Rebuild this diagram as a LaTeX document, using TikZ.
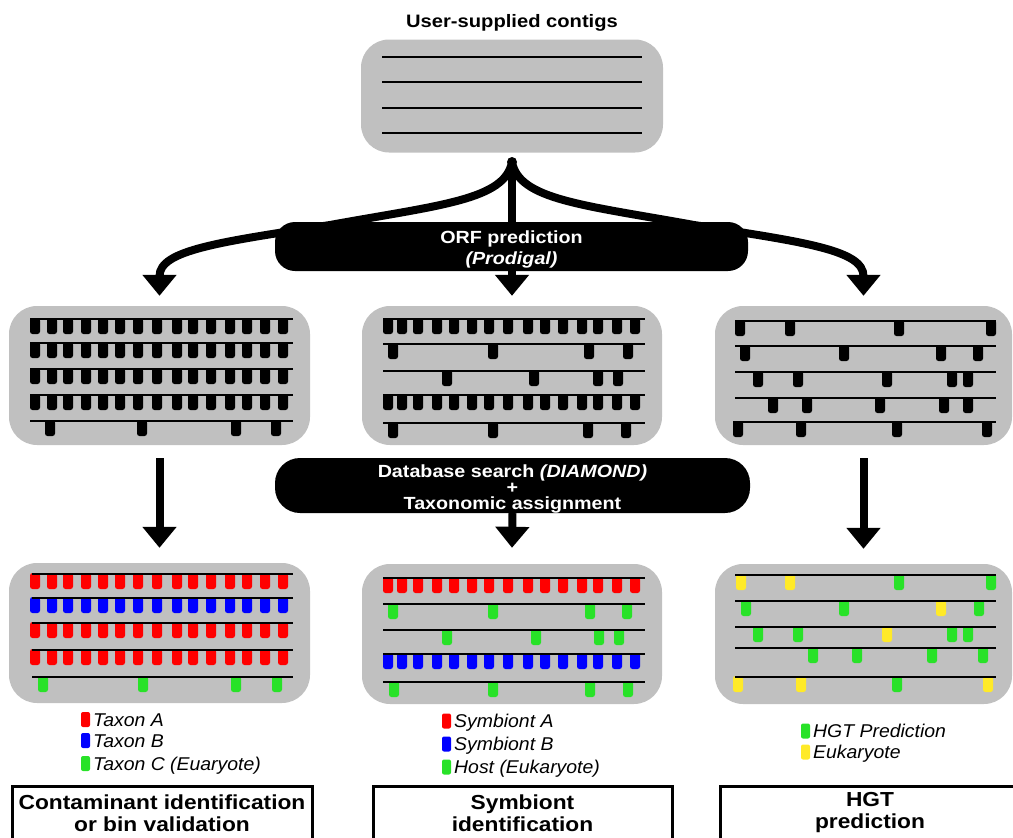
\documentclass[tikz,border=0pt]{standalone}
\usepackage{fontspec}
\setmainfont{Liberation Sans}
\newfontfamily\widesans[FakeStretch=1.12]{Liberation Sans}
\newfontfamily\legendsans[FakeStretch=1.05]{Liberation Sans}
\usetikzlibrary{arrows.meta}

\definecolor{panelgrey}{RGB}{192,192,192}
\definecolor{genered}{RGB}{255,0,0}
\definecolor{geneblue}{RGB}{0,0,255}
\definecolor{genegreen}{RGB}{40,226,40}
\definecolor{geneyellow}{RGB}{255,234,40}

% genes hanging below a contig: #1 y of the contig, #2 colour, #3 gene centres
\newcommand\genes[3]{%
  \edef\genelist{#3}%
  \foreach \g in \genelist {\fill[#2, rounded corners=2.5pt] (\g-5,#1-1) rectangle (\g+5,#1+15);}}
% the contig line itself: #1 x start, #2 x end, #3 y
\newcommand\contig[3]{\draw[contigline] (#1,#3) -- (#2,#3);}
% one legend entry: #1 node name, #2 x, #3 baseline y, #4 colour, #5 label
\newcommand\legenditem[5]{%
  \fill[#4, rounded corners=2pt] (#2,#3-14) rectangle (#2+9,#3+1);
  \node[legend] (#1) at (#2+12,#3) {#5};}

\begin{document}
\begin{tikzpicture}[x=1pt,y=-1pt,
  panel/.style={fill=panelgrey, rounded corners=28pt, inner sep=0pt},
  contigline/.style={line width=2.8pt, black},
  banner/.style={fill=black, inner sep=0pt},
  bannertext/.style={text=white, align=center, inner sep=0pt,
    font=\widesans\bfseries\fontsize{17.6}{21}\selectfont},
  flow/.style={line width=8pt, -{Triangle[width=33pt,length=21pt]}},
  legend/.style={anchor=base west, inner sep=0pt, font=\legendsans\itshape\fontsize{18.5}{22}\selectfont},
  outcome/.style={draw=black, line width=3pt, anchor=north, align=center,
    minimum height=53pt, inner sep=0pt, font=\widesans\bfseries\fontsize{20.3}{22}\selectfont},
  heading/.style={font=\widesans\bfseries\fontsize{18}{19}\selectfont, inner sep=0pt, anchor=base}]
\clip (0,0) rectangle (1013,838);

% ---------- input contigs ----------
\node[heading] (title) at (512,27) {User-supplied contigs};
\node[panel, minimum width=302pt, minimum height=113pt] (contigs) at (512,96) {};
\foreach \y in {57,82,108,133} {\contig{382}{642}{\y}}
\coordinate (split) at (512,162);

% ---------- ORF panels ----------
\node[panel, minimum width=301pt, minimum height=139pt] (orfA) at (159.5,375.5) {};
\node[panel, minimum width=300pt, minimum height=139pt] (orfB) at (512,375.5) {};
\node[panel, minimum width=297pt, minimum height=139pt] (orfC) at (863.5,375.5) {};

\def\fullL{35,52,68,86,103,120,138,157,177,193,211,230,247,265,283}
\def\fullC{388,402,418,437,454,472,489,508,528,545,563,582,598,617,635}

\foreach \y in {319,343,369,395} {\genes{\y}{black}{\fullL}\contig{30}{293}{\y}}
\genes{421}{black}{50,142,236,276}\contig{30}{293}{421}

\genes{319}{black}{\fullC}\contig{383}{645}{319}
\genes{344}{black}{393,493,589,628}\contig{383}{645}{344}
\genes{371}{black}{447,534,598,618}\contig{383}{645}{371}
\genes{395}{black}{\fullC}\contig{383}{645}{395}
\genes{423}{black}{393,493,588,626}\contig{383}{645}{423}

\genes{321}{black}{740,790,899,991}\contig{735}{996}{321}
\genes{346}{black}{745,844,941,978}\contig{735}{996}{346}
\genes{372}{black}{758,798,887,952,968}\contig{735}{996}{372}
\genes{398}{black}{773,807,880,944,968}\contig{735}{996}{398}
\genes{422}{black}{738,801,897,987}\contig{733}{996}{422}

% ---------- taxonomy panels ----------
\node[panel, minimum width=301pt, minimum height=140pt] (taxA) at (159.5,633) {};
\node[panel, minimum width=300pt, minimum height=140pt] (taxB) at (512,634) {};
\node[panel, minimum width=297pt, minimum height=140pt] (taxC) at (863.5,634) {};

\genes{574}{genered}{\fullL}\contig{32}{293}{574}
\genes{598}{geneblue}{\fullL}\contig{32}{293}{598}
\genes{623}{genered}{\fullL}\contig{32}{293}{623}
\genes{650}{genered}{\fullL}\contig{32}{293}{650}
\genes{677}{genegreen}{43,143,236,277}\contig{32}{293}{677}

\genes{578}{genered}{\fullC}\contig{383}{645}{578}
\genes{604}{genegreen}{393,493,590,627}\contig{383}{645}{604}
\genes{630}{genegreen}{447,536,599,619}\contig{383}{645}{630}
\genes{654}{geneblue}{\fullC}\contig{383}{645}{654}
\genes{682}{genegreen}{394,493,590,628}\contig{383}{645}{682}

\genes{575}{geneyellow}{741,790}\genes{575}{genegreen}{899,991}\contig{735}{996}{575}
\genes{601}{genegreen}{746,844,979}\genes{601}{geneyellow}{941}\contig{735}{996}{601}
\genes{627}{genegreen}{758,798,952,968}\genes{627}{geneyellow}{887}\contig{735}{996}{627}
\genes{648}{genegreen}{813,857,932,983}\contig{735}{996}{648}
\genes{677}{geneyellow}{738,801,988}\genes{677}{genegreen}{897}\contig{735}{996}{677}

% ---------- connectors ----------
\draw[flow] (split) .. controls (505,200) and (440,205) .. (330,225)
  .. controls (220,242) and (159.5,250) .. ([yshift=10pt]orfA.north);
\draw[flow] (split) .. controls (519,200) and (584,205) .. (694,225)
  .. controls (804,242) and (863.5,250) .. ([yshift=10pt]orfC.north);
\draw[flow] (split) -- ([yshift=10pt]orfB.north);
\fill (split) circle (5pt);

\node[banner, minimum width=473pt, minimum height=49pt, rounded corners=20pt] (orf)
  at (511.5,246.5) {};
\node[bannertext] (orftext) at ([yshift=-3pt]orf.center) {ORF prediction\\\textit{(Prodigal)}};

\draw[flow] ([yshift=-13pt]orfA.south) -- ([yshift=15pt]taxA.north);
\draw[flow] ([yshift=-13pt]orfC.south) -- ([yshift=15pt]taxC.north);
\node[banner, minimum width=475pt, minimum height=55pt, rounded corners=25pt] (db)
  at (512.5,485.5) {};
\node[bannertext, font=\widesans\bfseries\fontsize{17.6}{16}\selectfont] (dbtext)
  at ([yshift=-3pt]db.center) {Database search \textit{(DIAMOND)}\\+\\Taxonomic assignment};
\draw[flow] (db.south) -- ([yshift=16pt]taxB.north);

% ---------- legends ----------
\legenditem{legA1}{81}{726}{genered}{Taxon A}
\legenditem{legA2}{81}{747}{geneblue}{Taxon B}
\legenditem{legA3}{81}{770}{genegreen}{Taxon C (Euaryote)}
\legenditem{legB1}{442}{727.5}{genered}{Symbiont A}
\legenditem{legB2}{442}{750.5}{geneblue}{Symbiont B}
\legenditem{legB3}{442}{773.5}{genegreen}{Host (Eukaryote)}
\legenditem{legC1}{801}{737.5}{genegreen}{HGT Prediction}
\legenditem{legC2}{801}{758.5}{geneyellow}{Eukaryote}

% ---------- outcomes ----------
\node[outcome, minimum width=300pt] (outA) at (162,785) {Contaminant identification\\or bin validation};
\node[outcome, minimum width=299pt] (outB) at (522.5,785) {Symbiont\\identification};
\node[outcome, minimum width=300pt] (outC) at (870,785) {HGT\\prediction};
\end{tikzpicture}
\end{document}
